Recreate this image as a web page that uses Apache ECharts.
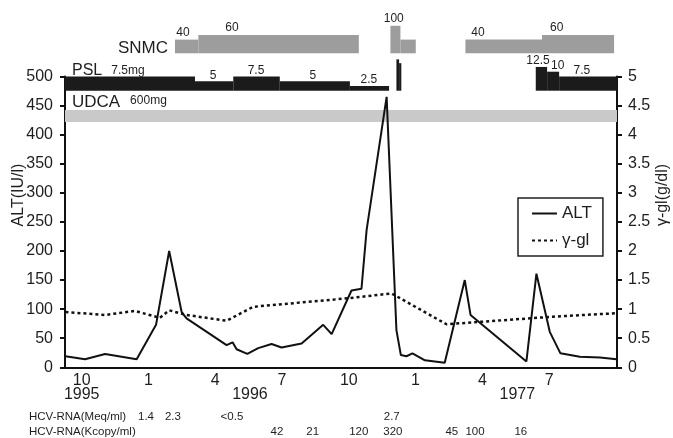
<!DOCTYPE html>
<html>
<head>
<meta charset="utf-8">
<style>
  html, body { margin: 0; padding: 0; background: #fff; }
  #chart { width: 673px; height: 438px; }
</style>
<script src="https://cdn.jsdelivr.net/npm/echarts@6/dist/echarts.min.js"></script>
</head>
<body>
<div id="chart"></div>
<script>
// x is counted in months from Jan 1995 (=1), so 13 = Jan 1996, 25 = Jan 1997
var monthTicks = [10, 13, 16, 19, 22, 25, 28, 31];
var monthLabels = ['10', '1', '4', '7', '10', '1', '4', '7'];
var yearTicks = [10, 17.56, 29.57];
var yearLabels = ['1995', '1996', '1977'];

// ALT (IU/l), [month, value]
var altPoints = [
  [9.27, 19], [10.15, 14], [11.05, 23], [12.47, 14], [13.34, 73], [13.93, 200],
  [14.49, 95], [14.71, 84], [16.51, 38], [16.78, 43], [16.96, 31], [17.44, 23],
  [17.93, 33], [18.53, 40], [18.98, 34], [19.88, 41], [20.85, 73], [21.23, 57],
  [22.12, 132], [22.57, 135], [22.8, 236], [23.7, 465], [24.14, 64], [24.34, 21],
  [24.59, 19], [24.86, 24], [25.42, 12], [26.31, 8], [27.21, 150], [27.47, 90],
  [29.98, 10], [30.43, 161], [31.03, 61], [31.51, 24], [32.38, 18], [33.28, 17],
  [34.03, 14]
];

// gamma-globulin (g/dl), [month, value]
var gglPoints = [
  [9.27, 0.95], [11.05, 0.90], [12.39, 0.97], [13.51, 0.85], [13.93, 0.98],
  [14.71, 0.90], [16.51, 0.80], [17.7, 1.04], [22.05, 1.19], [23.92, 1.27],
  [26.39, 0.74], [31.16, 0.87], [34.03, 0.93]
];

// treatments: [start month, end month, dose]
var snmcDoses = [
  [14.19, 15.24, 40], [15.24, 22.45, 60], [23.87, 24.32, 100], [24.32, 25.01, 40],
  [27.24, 30.68, 40], [30.68, 33.92, 60]
];
var pslDoses = [
  [9.25, 15.09, 7.5], [15.09, 16.81, 5], [16.81, 18.9, 7.5], [18.9, 22.05, 5],
  [22.05, 23.81, 2.5], [24.14, 24.26, 16.5], [24.26, 24.36, 14.5],
  [30.4, 30.91, 12.5], [30.91, 31.45, 10], [31.45, 34.05, 7.5]
];
var udcaDoses = [[9.25, 34.05, 600]];

// dose annotations: [month, text]
var snmcLabels = [[14.55, '40'], [16.75, '60'], [24.02, '100'], [27.8, '40'], [31.34, '60']];
var pslLabels = [
  [12.08, '7.5mg'], [15.9, '5'], [17.83, '7.5'], [20.39, '5'], [22.9, '2.5'],
  [30.5, '12.5'], [31.39, '10'], [32.47, '7.5']
];
var udcaLabels = [[13.0, '600mg']];

// HCV-RNA measurements: [month, text]
var hcvMeq = [[12.89, '1.4'], [14.10, '2.3'], [16.75, '<0.5'], [23.93, '2.7']];
var hcvKcopy = [
  [18.77, '42'], [20.38, '21'], [22.45, '120'], [23.98, '320'],
  [26.63, '45'], [27.67, '100'], [29.73, '16']
];

var FONT = '"Liberation Sans", Arial, Helvetica, sans-serif';
var INK = '#1e1e1e';
var xMin = 9.25, xMax = 34.05;

// lanes of the treatment strip (in strip units, bottom up)
var lanes = {
  snmc: { base: 71.7, h0: 4.5, k: 0.23, color: '#9d9d9d', gap: 7 },
  psl: { base: 34.3, h0: 0, k: 1.9, color: '#1b1b1b', gap: 6 },
  udca: { base: 3, h0: 12, k: 0, color: '#c9c9c9', gap: 9 }
};

function doseBars(doses, lane) {
  return {
    type: 'custom', xAxisIndex: 2, yAxisIndex: 2, silent: true, z: 1,
    data: doses,
    renderItem: function(params, api) {
      var p0 = api.coord([api.value(0), lane.base]);
      var p1 = api.coord([api.value(1), lane.base + lane.h0 + lane.k * api.value(2)]);
      return {
        type: 'rect',
        shape: { x: p0[0], y: p1[1], width: p1[0] - p0[0], height: p0[1] - p1[1] },
        style: { fill: lane.color }
      };
    }
  };
}

function doseLabels(labels, lane) {
  return {
    type: 'custom', xAxisIndex: 2, yAxisIndex: 2, silent: true, z: 2,
    data: labels.map(function(d) { return [d[0], parseFloat(d[1])]; }),
    renderItem: function(params, api) {
      var p = api.coord([api.value(0), lane.base + lane.h0 + lane.k * api.value(1)]);
      return {
        type: 'text', x: p[0], y: p[1] - lane.gap,
        style: {
          text: labels[params.dataIndex][1], fill: INK, fontSize: 12, fontFamily: FONT,
          align: 'center', verticalAlign: 'middle'
        }
      };
    }
  };
}

function hcvRow(items, dy) {
  return {
    type: 'custom', xAxisIndex: 0, yAxisIndex: 0, silent: true, z: 2,
    data: items.map(function(d) { return [d[0], 0]; }),
    renderItem: function(params, api) {
      var p = api.coord([api.value(0), 0]);
      return {
        type: 'text', x: p[0], y: p[1] + dy,
        style: {
          text: items[params.dataIndex][1], fill: INK, fontSize: 11.5, fontFamily: FONT,
          align: 'center', verticalAlign: 'middle'
        }
      };
    }
  };
}

function caption(text, x, y, size, align, rot) {
  return {
    type: 'text', x: x, y: y, rotation: rot || 0, silent: true,
    style: { text: text, fill: INK, fontSize: size, fontFamily: FONT, align: align, verticalAlign: 'middle' }
  };
}

var axisLine = { show: true, lineStyle: { color: '#111', width: 2 } };

var chart = echarts.init(document.getElementById('chart'), null, { renderer: 'canvas' });
chart.setOption({
  animation: false,
  backgroundColor: '#fff',
  textStyle: { fontFamily: FONT, color: INK },
  grid: [
    { left: 65, right: 56, top: 76.5, bottom: 70.7 },
    { left: 65, right: 56, top: 15, height: 110 }
  ],
  legend: {
    orient: 'vertical', left: 518, top: 198,
    padding: [7, 11, 7, 13], itemGap: 10, itemWidth: 25, itemHeight: 14,
    borderColor: '#222', borderWidth: 1.5,
    itemStyle: { opacity: 0 },
    textStyle: { fontSize: 17, color: INK, fontFamily: FONT },
    data: ['ALT', 'γ-gl']
  },
  xAxis: [
    {
      gridIndex: 0, type: 'value', min: xMin, max: xMax, position: 'bottom',
      axisLine: axisLine, axisTick: { show: false }, splitLine: { show: false },
      axisLabel: {
        customValues: monthTicks, margin: 5, fontSize: 16, color: INK,
        formatter: function(v) { return monthLabels[monthTicks.indexOf(v)]; }
      }
    },
    {
      gridIndex: 0, type: 'value', min: xMin, max: xMax, position: 'bottom',
      axisLine: { show: false }, axisTick: { show: false }, splitLine: { show: false },
      axisLabel: {
        customValues: yearTicks, margin: 19, fontSize: 16, color: INK,
        formatter: function(v) { return yearLabels[yearTicks.indexOf(v)]; }
      }
    },
    { gridIndex: 1, type: 'value', min: xMin, max: xMax, show: false }
  ],
  yAxis: [
    {
      gridIndex: 0, type: 'value', min: 0, max: 500, interval: 50, position: 'left',
      axisLine: axisLine, splitLine: { show: false },
      axisTick: { show: true, length: 5, lineStyle: { color: '#111', width: 2 } },
      axisLabel: { margin: 12, fontSize: 16, color: INK }
    },
    {
      gridIndex: 0, type: 'value', min: 0, max: 5, interval: 0.5, position: 'right',
      axisLine: axisLine, splitLine: { show: false },
      axisTick: { show: true, length: 5, lineStyle: { color: '#111', width: 2 } },
      axisLabel: { margin: 11, fontSize: 16, color: INK }
    },
    { gridIndex: 1, type: 'value', min: 0, max: 110, show: false }
  ],
  graphic: [
    caption('SNMC', 168, 48.7, 17, 'right'),
    caption('PSL', 72, 70.3, 16, 'left'),
    caption('UDCA', 72, 102, 17, 'left'),
    caption('ALT(IU/l)', 19, 195, 16, 'center', Math.PI / 2),
    caption('γ-gl(g/dl)', 663, 195, 16, 'center', Math.PI / 2),
    caption('HCV-RNA(Meq/ml)', 29, 417, 11.5, 'left'),
    caption('HCV-RNA(Kcopy/ml)', 29, 432, 11.5, 'left')
  ],
  series: [
    doseBars(udcaDoses, lanes.udca),
    doseBars(pslDoses, lanes.psl),
    doseBars(snmcDoses, lanes.snmc),
    doseLabels(udcaLabels, lanes.udca),
    doseLabels(pslLabels, lanes.psl),
    doseLabels(snmcLabels, lanes.snmc),
    hcvRow(hcvMeq, 49.7),
    hcvRow(hcvKcopy, 64.7),
    {
      name: 'ALT', type: 'line', xAxisIndex: 0, yAxisIndex: 0, z: 5,
      data: altPoints, symbol: 'none',
      lineStyle: { color: '#111', width: 2 }, itemStyle: { color: '#111' }
    },
    {
      name: 'γ-gl', type: 'line', xAxisIndex: 0, yAxisIndex: 1, z: 4,
      data: gglPoints, symbol: 'none',
      lineStyle: { color: '#111', width: 2.5, type: [3, 3] }, itemStyle: { color: '#111' }
    }
  ]
});
</script>
</body>
</html>
